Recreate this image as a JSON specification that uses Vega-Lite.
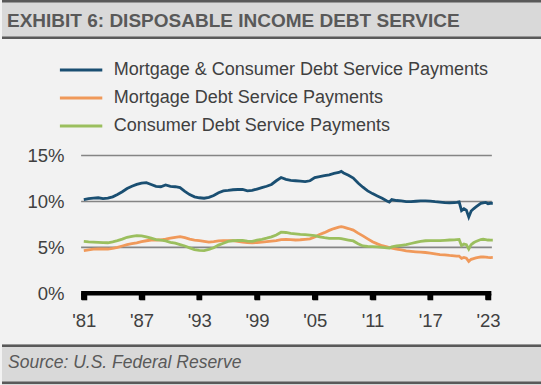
{
  "$schema": "https://vega.github.io/schema/vega-lite/v6.json",
  "background": "#f2f2f2",
  "padding": 0,
  "spacing": 0,
  "config": {"view": {"stroke": null}},
  "vconcat": [
    {
      "width": 541,
      "height": 39,
      "view": {"fill": "#d9d9d9", "stroke": null},
      "layer": [
        {
          "data": {"values": [{}]},
          "mark": {"type": "rule", "color": "#595959", "strokeWidth": 2.4},
          "encoding": {"y": {"datum": 1.2, "type": "quantitative", "scale": {"domain": [0, 39], "reverse": true, "zero": false, "nice": false}, "axis": null}}
        },
        {
          "data": {"values": [{}]},
          "mark": {"type": "rule", "color": "#595959", "strokeWidth": 2.4},
          "encoding": {"y": {"datum": 37.8, "type": "quantitative", "scale": {"domain": [0, 39], "reverse": true, "zero": false, "nice": false}, "axis": null}}
        },
        {
          "data": {"values": [{"label": "EXHIBIT 6: DISPOSABLE INCOME DEBT SERVICE"}]},
          "mark": {"type": "text", "align": "left", "baseline": "alphabetic", "font": "Liberation Sans", "fontWeight": "bold", "fontSize": 19, "color": "#595959"},
          "encoding": {
            "text": {"field": "label"},
            "x": {"datum": 5, "type": "quantitative", "scale": {"domain": [0, 541], "zero": false, "nice": false}, "axis": null},
            "y": {"datum": 26.6, "type": "quantitative", "scale": {"domain": [0, 39], "reverse": true, "zero": false, "nice": false}, "axis": null}
          }
        }
      ]
    },
    {
      "width": 541,
      "height": 305,
      "view": {"fill": "#f2f2f2", "stroke": null},
      "layer": [
        {
          "data": {"values": [{"g": 5}, {"g": 10}, {"g": 15}]},
          "mark": {"type": "rule", "color": "#858585", "strokeWidth": 1.6},
          "encoding": {
            "y": {"field": "g", "type": "quantitative", "title": null, "scale": {"domain": [0, 15], "range": [254.3, 116.5], "zero": false, "nice": false}},
            "x": {"datum": 1980.72, "type": "quantitative", "title": null, "scale": {"domain": [1981, 2023], "range": [81.8, 486], "zero": false, "nice": false}},
            "x2": {"datum": 2023.4}
          }
        },
        {
          "data": {"values": [{"g": 0}]},
          "mark": {"type": "rule", "color": "#000000", "strokeWidth": 4.5},
          "encoding": {
            "y": {"field": "g", "type": "quantitative", "title": null, "scale": {"domain": [0, 15], "range": [254.3, 116.5], "zero": false, "nice": false}},
            "x": {"datum": 1980.72, "type": "quantitative", "title": null, "scale": {"domain": [1981, 2023], "range": [81.8, 486], "zero": false, "nice": false}},
            "x2": {"datum": 2023.35}
          }
        },
        {
          "data": {"values": [{"t": 1981}, {"t": 1987}, {"t": 1993}, {"t": 1999}, {"t": 2005}, {"t": 2011}, {"t": 2017}, {"t": 2023}]},
          "mark": {"type": "tick", "orient": "vertical", "thickness": 5.5, "size": 6.5, "color": "#000000", "opacity": 1, "yOffset": 3.3},
          "encoding": {
            "x": {"field": "t", "type": "quantitative", "title": null, "scale": {"domain": [1981, 2023], "range": [81.8, 486], "zero": false, "nice": false}},
            "y": {"datum": 0, "type": "quantitative", "title": null, "scale": {"domain": [0, 15], "range": [254.3, 116.5], "zero": false, "nice": false}}
          }
        },
        {
          "data": {"values": [
            {"year": 1981.0, "total": 10.2, "mortgage": 4.64, "consumer": 5.65},
            {"year": 1981.5, "total": 10.3, "mortgage": 4.72, "consumer": 5.6},
            {"year": 1982.0, "total": 10.35, "mortgage": 4.8, "consumer": 5.57},
            {"year": 1982.5, "total": 10.4, "mortgage": 4.82, "consumer": 5.55},
            {"year": 1983.0, "total": 10.3, "mortgage": 4.82, "consumer": 5.52},
            {"year": 1983.5, "total": 10.35, "mortgage": 4.82, "consumer": 5.5},
            {"year": 1984.0, "total": 10.5, "mortgage": 4.88, "consumer": 5.6},
            {"year": 1984.5, "total": 10.75, "mortgage": 5.0, "consumer": 5.73},
            {"year": 1985.0, "total": 11.05, "mortgage": 5.15, "consumer": 5.9},
            {"year": 1985.5, "total": 11.4, "mortgage": 5.3, "consumer": 6.1},
            {"year": 1986.0, "total": 11.65, "mortgage": 5.4, "consumer": 6.2},
            {"year": 1986.5, "total": 11.85, "mortgage": 5.5, "consumer": 6.27},
            {"year": 1987.0, "total": 12.0, "mortgage": 5.62, "consumer": 6.25},
            {"year": 1987.5, "total": 12.05, "mortgage": 5.72, "consumer": 6.15},
            {"year": 1988.0, "total": 11.85, "mortgage": 5.8, "consumer": 6.0},
            {"year": 1988.5, "total": 11.65, "mortgage": 5.8, "consumer": 5.85},
            {"year": 1989.0, "total": 11.6, "mortgage": 5.82, "consumer": 5.78},
            {"year": 1989.5, "total": 11.8, "mortgage": 5.9, "consumer": 5.7},
            {"year": 1990.0, "total": 11.65, "mortgage": 6.0, "consumer": 5.55},
            {"year": 1990.5, "total": 11.6, "mortgage": 6.1, "consumer": 5.45},
            {"year": 1991.0, "total": 11.5, "mortgage": 6.16, "consumer": 5.3},
            {"year": 1991.5, "total": 11.1, "mortgage": 6.05, "consumer": 5.15},
            {"year": 1992.0, "total": 10.75, "mortgage": 5.9, "consumer": 4.95},
            {"year": 1992.5, "total": 10.5, "mortgage": 5.8, "consumer": 4.75},
            {"year": 1993.0, "total": 10.4, "mortgage": 5.73, "consumer": 4.67},
            {"year": 1993.5, "total": 10.35, "mortgage": 5.65, "consumer": 4.65},
            {"year": 1994.0, "total": 10.45, "mortgage": 5.58, "consumer": 4.78},
            {"year": 1994.5, "total": 10.65, "mortgage": 5.62, "consumer": 4.95},
            {"year": 1995.0, "total": 10.95, "mortgage": 5.7, "consumer": 5.25},
            {"year": 1995.5, "total": 11.15, "mortgage": 5.73, "consumer": 5.45},
            {"year": 1996.0, "total": 11.2, "mortgage": 5.73, "consumer": 5.65},
            {"year": 1996.5, "total": 11.27, "mortgage": 5.73, "consumer": 5.72},
            {"year": 1997.0, "total": 11.3, "mortgage": 5.65, "consumer": 5.75},
            {"year": 1997.5, "total": 11.3, "mortgage": 5.58, "consumer": 5.75},
            {"year": 1998.0, "total": 11.15, "mortgage": 5.52, "consumer": 5.68},
            {"year": 1998.5, "total": 11.2, "mortgage": 5.5, "consumer": 5.65},
            {"year": 1999.0, "total": 11.35, "mortgage": 5.53, "consumer": 5.78},
            {"year": 1999.5, "total": 11.5, "mortgage": 5.57, "consumer": 5.88},
            {"year": 2000.0, "total": 11.65, "mortgage": 5.62, "consumer": 6.0},
            {"year": 2000.5, "total": 11.85, "mortgage": 5.68, "consumer": 6.15},
            {"year": 2001.0, "total": 12.25, "mortgage": 5.73, "consumer": 6.35},
            {"year": 2001.5, "total": 12.6, "mortgage": 5.85, "consumer": 6.65},
            {"year": 2002.0, "total": 12.4, "mortgage": 5.87, "consumer": 6.62},
            {"year": 2002.5, "total": 12.3, "mortgage": 5.85, "consumer": 6.53},
            {"year": 2003.0, "total": 12.25, "mortgage": 5.8, "consumer": 6.48},
            {"year": 2003.5, "total": 12.2, "mortgage": 5.83, "consumer": 6.42},
            {"year": 2004.0, "total": 12.15, "mortgage": 5.88, "consumer": 6.38},
            {"year": 2004.5, "total": 12.25, "mortgage": 5.92, "consumer": 6.33},
            {"year": 2005.0, "total": 12.6, "mortgage": 6.12, "consumer": 6.27},
            {"year": 2005.5, "total": 12.7, "mortgage": 6.4, "consumer": 6.15},
            {"year": 2006.0, "total": 12.8, "mortgage": 6.6, "consumer": 6.05},
            {"year": 2006.5, "total": 12.9, "mortgage": 6.85, "consumer": 5.98},
            {"year": 2007.0, "total": 13.05, "mortgage": 7.05, "consumer": 5.98},
            {"year": 2007.5, "total": 13.15, "mortgage": 7.2, "consumer": 5.98},
            {"year": 2007.75, "total": 13.27, "mortgage": 7.25, "consumer": 5.95},
            {"year": 2008.0, "total": 13.1, "mortgage": 7.2, "consumer": 5.9},
            {"year": 2008.5, "total": 12.85, "mortgage": 7.05, "consumer": 5.8},
            {"year": 2009.0, "total": 12.55, "mortgage": 6.88, "consumer": 5.7},
            {"year": 2009.5, "total": 12.0, "mortgage": 6.55, "consumer": 5.4},
            {"year": 2010.0, "total": 11.55, "mortgage": 6.25, "consumer": 5.15},
            {"year": 2010.5, "total": 11.15, "mortgage": 5.93, "consumer": 5.1},
            {"year": 2011.0, "total": 10.85, "mortgage": 5.62, "consumer": 5.07},
            {"year": 2011.5, "total": 10.6, "mortgage": 5.38, "consumer": 5.05},
            {"year": 2012.0, "total": 10.35, "mortgage": 5.18, "consumer": 5.0},
            {"year": 2012.5, "total": 10.05, "mortgage": 5.05, "consumer": 4.95},
            {"year": 2012.75, "total": 9.93, "mortgage": 4.97, "consumer": 4.93},
            {"year": 2013.0, "total": 10.2, "mortgage": 4.93, "consumer": 5.05},
            {"year": 2013.5, "total": 10.1, "mortgage": 4.82, "consumer": 5.15},
            {"year": 2014.0, "total": 10.05, "mortgage": 4.72, "consumer": 5.22},
            {"year": 2014.5, "total": 9.98, "mortgage": 4.62, "consumer": 5.3},
            {"year": 2015.0, "total": 9.98, "mortgage": 4.57, "consumer": 5.42},
            {"year": 2015.5, "total": 10.02, "mortgage": 4.52, "consumer": 5.55},
            {"year": 2016.0, "total": 10.05, "mortgage": 4.48, "consumer": 5.65},
            {"year": 2016.5, "total": 10.07, "mortgage": 4.44, "consumer": 5.72},
            {"year": 2017.0, "total": 10.03, "mortgage": 4.38, "consumer": 5.73},
            {"year": 2017.5, "total": 9.97, "mortgage": 4.3, "consumer": 5.73},
            {"year": 2018.0, "total": 9.93, "mortgage": 4.22, "consumer": 5.73},
            {"year": 2018.5, "total": 9.88, "mortgage": 4.18, "consumer": 5.76},
            {"year": 2019.0, "total": 9.85, "mortgage": 4.12, "consumer": 5.8},
            {"year": 2019.5, "total": 9.88, "mortgage": 4.08, "consumer": 5.82},
            {"year": 2019.75, "total": 9.9, "mortgage": 4.05, "consumer": 5.84},
            {"year": 2020.0, "total": 9.95, "mortgage": 4.05, "consumer": 5.85},
            {"year": 2020.25, "total": 9.0, "mortgage": 3.8, "consumer": 5.18},
            {"year": 2020.5, "total": 9.2, "mortgage": 3.9, "consumer": 5.36},
            {"year": 2020.75, "total": 9.05, "mortgage": 3.82, "consumer": 5.3},
            {"year": 2021.0, "total": 8.3, "mortgage": 3.47, "consumer": 4.82},
            {"year": 2021.25, "total": 8.95, "mortgage": 3.7, "consumer": 5.3},
            {"year": 2021.5, "total": 9.2, "mortgage": 3.78, "consumer": 5.5},
            {"year": 2021.75, "total": 9.4, "mortgage": 3.85, "consumer": 5.65},
            {"year": 2022.0, "total": 9.6, "mortgage": 3.92, "consumer": 5.75},
            {"year": 2022.25, "total": 9.8, "mortgage": 3.95, "consumer": 5.85},
            {"year": 2022.5, "total": 9.85, "mortgage": 3.95, "consumer": 5.88},
            {"year": 2022.75, "total": 9.9, "mortgage": 3.93, "consumer": 5.85},
            {"year": 2023.0, "total": 9.75, "mortgage": 3.9, "consumer": 5.8},
            {"year": 2023.25, "total": 9.8, "mortgage": 3.88, "consumer": 5.78},
            {"year": 2023.5, "total": 9.8, "mortgage": 3.9, "consumer": 5.78}
          ]},
          "transform": [{"fold": ["total", "mortgage", "consumer"], "as": ["series", "value"]}],
          "mark": {"type": "line", "strokeWidth": 2.8},
          "encoding": {
            "x": {
              "field": "year", "type": "quantitative", "title": null,
              "scale": {"domain": [1981, 2023], "range": [81.8, 486], "zero": false, "nice": false},
              "axis": {
                "values": [1981, 1987, 1993, 1999, 2005, 2011, 2017, 2023],
                "labelExpr": "\"'\" + substring(toString(datum.value), 2)",
                "domain": false, "grid": false, "ticks": true, "tickSize": 6.5, "tickWidth": 5.5, "tickColor": "#000000", "tickOpacity": 1,
                "zindex": 2,
                "offset": -50.7, "labelPadding": 12,
                "labelFont": "Liberation Sans",
                "labelFontSize": 18.5, "labelColor": "#404040", "labelFlush": false, "labelOverlap": false, "title": null
              }
            },
            "y": {
              "field": "value", "type": "quantitative", "title": null,
              "scale": {"domain": [0, 15], "range": [254.3, 116.5], "zero": false, "nice": false},
              "axis": {
                "values": [0, 5, 10, 15],
                "labelExpr": "datum.value + '%'",
                "domain": false, "grid": false, "ticks": false,
                "offset": -62, "labelPadding": 0,
                "labelFont": "Liberation Sans",
                "labelFontSize": 18.5, "labelColor": "#404040", "title": null
              }
            },
            "color": {
              "field": "series", "type": "nominal",
              "sort": ["total", "mortgage", "consumer"],
              "scale": {"domain": ["total", "mortgage", "consumer"], "range": ["#1a4f72", "#f0995a", "#9bbf5e"]},
              "legend": {
                "orient": "none", "legendX": 70.1, "legendY": 61, "direction": "vertical", "title": null,
                "symbolType": "M-4.24,0H4.24", "symbolSize": 100, "symbolStrokeWidth": 3,
                "labelFont": "Liberation Sans",
                "labelFontSize": 18, "labelColor": "#404040", "labelOffset": 23.7, "rowPadding": 10, "padding": 0, "labelLimit": 500,
                "labelExpr": "datum.label == 'total' ? 'Mortgage & Consumer Debt Service Payments' : datum.label == 'mortgage' ? 'Mortgage Debt Service Payments' : 'Consumer Debt Service Payments'"
              }
            }
          }
        }
      ]
    },
    {
      "width": 541,
      "height": 41,
      "view": {"fill": "#d9d9d9", "stroke": null},
      "layer": [
        {
          "data": {"values": [{}]},
          "mark": {"type": "rule", "color": "#595959", "strokeWidth": 2.6},
          "encoding": {"y": {"datum": 1.8, "type": "quantitative", "scale": {"domain": [0, 41], "reverse": true, "zero": false, "nice": false}, "axis": null}}
        },
        {
          "data": {"values": [{}]},
          "mark": {"type": "rule", "color": "#595959", "strokeWidth": 2.6},
          "encoding": {"y": {"datum": 38.8, "type": "quantitative", "scale": {"domain": [0, 41], "reverse": true, "zero": false, "nice": false}, "axis": null}}
        },
        {
          "data": {"values": [{"label": "Source: U.S. Federal Reserve"}]},
          "mark": {"type": "text", "align": "left", "baseline": "alphabetic", "font": "Liberation Sans", "fontStyle": "italic", "fontSize": 17.5, "color": "#595959"},
          "encoding": {
            "text": {"field": "label"},
            "x": {"datum": 6, "type": "quantitative", "scale": {"domain": [0, 541], "zero": false, "nice": false}, "axis": null},
            "y": {"datum": 24.3, "type": "quantitative", "scale": {"domain": [0, 41], "reverse": true, "zero": false, "nice": false}, "axis": null}
          }
        }
      ]
    }
  ]
}
